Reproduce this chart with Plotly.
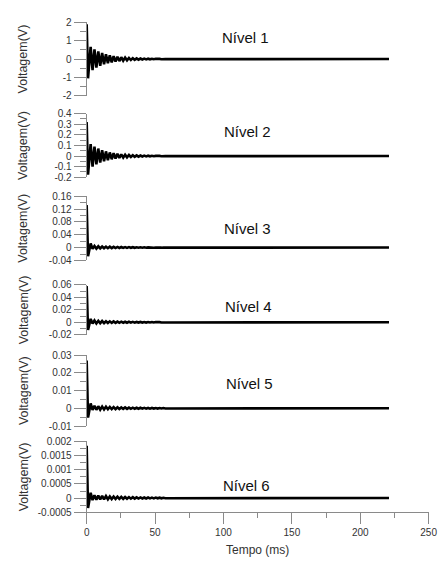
import numpy as np
import plotly.graph_objects as go

# ---------------- data ----------------
t_ms = [0, 1.0, 2.9, 4.3, 5.7, 7.1, 8.5, 9.9, 11.3, 12.7, 14.1, 15.5, 16.9, 18.3,
        19.7, 21.1, 22.5, 23.9, 25.3, 26.7, 28.1, 29.5, 30.9, 32.3, 33.7, 35.1,
        36.5, 37.9, 39.3, 40.7, 42.1, 43.5, 44.9, 46.3, 47.7, 49.1, 50.5, 51.9,
        53.3, 54.7, 56.1, 57.5, 221]

nivel1 = [1.9, -1.05, 0.67, -0.6, 0.53, -0.47, 0.42, -0.37, 0.33, -0.29, 0.26, -0.23,
          0.2, -0.18, 0.16, -0.14, 0.125, -0.11, 0.098, -0.087, 0.077, -0.068,
          0.06, -0.053, 0.047, -0.042, 0.037, -0.033, 0.029, -0.026, 0.023, -0.02,
          0.018, -0.016, 0.014, -0.0125, 0.011, -0.01, 0.009, -0.008, 0.007, -0.006, 0]
nivel2 = [0.32, -0.175, 0.113, -0.1, 0.089, -0.079, 0.071, -0.062, 0.055, -0.049,
          0.044, -0.039, 0.034, -0.03, 0.027, -0.024, 0.021, -0.018, 0.016, -0.0145,
          0.013, -0.0115, 0.01, -0.009, 0.008, -0.007, 0.0062, -0.0055, 0.0049, -0.0044,
          0.0039, -0.0034, 0.003, -0.0027, 0.0024, -0.0021, 0.0018, -0.0017, 0.0015,
          -0.0013, 0.0012, -0.001, 0]
nivel3 = [0.132, -0.027, 0.013, -0.004, 0.005, -0.003, 0.004, -0.0025, 0.0035, -0.002,
          0.003, -0.0018, 0.0027, -0.0016, 0.0024, -0.0014, 0.0021, -0.0012, 0.0018,
          -0.001, 0.0016, -0.0009, 0.0014, -0.0008, 0.0012, -0.0007, 0.001, -0.0006,
          0.0009, -0.0005, 0.0008, -0.00045, 0.0007, -0.0004, 0.0006, -0.00035, 0.0005,
          -0.0003, 0.00045, -0.00025, 0.0004, -0.0002, 0.0001]
nivel4 = [0.058, -0.012, 0.0055, -0.002, 0.003, -0.0017, 0.0025, -0.0014, 0.0021, -0.0012,
          0.0018, -0.001, 0.0016, -0.0009, 0.0014, -0.0008, 0.0012, -0.0007, 0.0011,
          -0.0006, 0.001, -0.00055, 0.0009, -0.0005, 0.0008, -0.00045, 0.0007, -0.0004,
          0.0006, -0.00035, 0.00055, -0.0003, 0.0005, -0.00028, 0.00045, -0.00025,
          0.0004, -0.0002, 0.00035, -0.00018, 0.0003, -0.00015, 0.0001]
nivel5 = [0.027, -0.0052, 0.0028, -0.0009, 0.0014, -0.0008, 0.0012, -0.0007, 0.001,
          -0.0006, 0.0009, -0.0005, 0.0008, -0.00045, 0.0007, -0.0004, 0.0006, -0.00035,
          0.00055, -0.0003, 0.0005, -0.00028, 0.00045, -0.00025, 0.0004, -0.00022,
          0.00036, -0.0002, 0.00032, -0.00018, 0.00028, -0.00016, 0.00025, -0.00014,
          0.00022, -0.00012, 0.0002, -0.0001, 0.00018, -0.00009, 0.00016, -0.00008, 0.00005]
nivel6 = [0.00185, -0.00035, 0.00019, -0.00007, 0.0001, -0.00006, 0.00009, -0.00005,
          0.00008, -0.000045, 0.00007, -0.00004, 0.00006, -0.000035, 0.000055, -0.00003,
          0.00005, -0.000028, 0.000045, -0.000025, 0.00004, -0.000022, 0.000036,
          -0.00002, 0.000032, -0.000018, 0.000028, -0.000016, 0.000025, -0.000014,
          0.000022, -0.000012, 0.00002, -0.00001, 0.000018, -0.000009, 0.000016,
          -0.000008, 0.000014, -0.000007, 0.000012, -0.000006, 0.000004]

series = [nivel1, nivel2, nivel3, nivel4, nivel5, nivel6]
panel_titles = ["Nível 1", "Nível 2", "Nível 3", "Nível 4", "Nível 5", "Nível 6"]

y_ticks = [
    [-2, -1, 0, 1, 2],
    [-0.2, -0.1, 0, 0.1, 0.2, 0.3, 0.4],
    [-0.04, 0, 0.04, 0.08, 0.12, 0.16],
    [-0.02, 0, 0.02, 0.04, 0.06],
    [-0.01, 0, 0.01, 0.02, 0.03],
    [-0.0005, 0, 0.0005, 0.001, 0.0015, 0.002],
]
y_ticktext = [
    ["-2", "-1", "0", "1", "2"],
    ["-0.2", "-0.1", "0", "0.1", "0.2", "0.3", "0.4"],
    ["-0.04", "0", "0.04", "0.08", "0.12", "0.16"],
    ["-0.02", "0", "0.02", "0.04", "0.06"],
    ["-0.01", "0", "0.01", "0.02", "0.03"],
    ["-0.0005", "0", "0.0005", "0.001", "0.0015", "0.002"],
]
x_ticks = [0, 50, 100, 150, 200, 250]
x_ticktext = ["0", "50", "100", "150", "200", "250"]
y_title = "Voltagem(V)"
x_title = "Tempo (ms)"

# ---------------- layout geometry (pixels) ----------------
W, H = 443, 562
panel_px = [(16.7, 91.7), (110, 175), (194.3, 260), (285, 336), (356.7, 429.3), (445, 517.3)]
title_px = [(249, 32), (251, 128), (251, 227), (252, 307), (253, 386), (250, 490)]
x_left, x_right = 86, 437.5

AX = "#8a8a8a"
TXT = "#333333"
FONT = "Liberation Sans, Arial, sans-serif"

fig = go.Figure()
layout = dict(
    width=W, height=H,
    margin=dict(l=0, r=0, t=0, b=0),
    paper_bgcolor="white", plot_bgcolor="white",
    showlegend=False,
    font=dict(family=FONT, color=TXT, size=10),
)

annotations = []
for i, (vals, (top, bot)) in enumerate(zip(series, panel_px)):
    k = i + 1
    yname = "y" if k == 1 else f"y{k}"
    fig.add_trace(go.Scatter(
        x=t_ms, y=vals, mode="lines", xaxis="x", yaxis=yname,
        line=dict(color="black", width=2.6),
        hoverinfo="skip",
    ))
    tv = y_ticks[i]
    step = (tv[1] - tv[0]) / 2
    minor_vals = list(np.arange(tv[0], tv[-1] + step / 2, step))
    layout["yaxis" if k == 1 else f"yaxis{k}"] = dict(
        domain=[1 - bot / H, 1 - top / H],
        anchor="x",
        range=[tv[0], tv[-1]],
        tickmode="array", tickvals=tv, ticktext=y_ticktext[i],
        ticks="outside", ticklen=12, tickcolor=AX, tickwidth=1,
        showline=True, linecolor=AX, linewidth=1,
        showgrid=False, zeroline=False,
        tickfont=dict(family=FONT, size=10, color=TXT),
        minor=dict(ticks="outside", ticklen=6, tickcolor=AX, tickwidth=1,
                   tickmode="array", tickvals=minor_vals, showgrid=False),
        fixedrange=True,
    )
    cy = 1 - (top + bot) / 2 / H
    annotations.append(dict(
        x=21 / W, y=cy, xref="paper", yref="paper", text=y_title,
        textangle=-90, showarrow=False, xanchor="center", yanchor="middle",
        font=dict(family=FONT, size=12.5, color=TXT),
    ))
    tx, ty = title_px[i]
    annotations.append(dict(
        x=tx / W, y=1 - ty / H, xref="paper", yref="paper", text=panel_titles[i],
        showarrow=False, xanchor="center", yanchor="middle",
        font=dict(family=FONT, size=15, color="#111111"),
    ))

layout["xaxis"] = dict(
    domain=[x_left / W, x_right / W],
    anchor="y6",
    range=[0, 250],
    tickmode="array", tickvals=x_ticks, ticktext=x_ticktext,
    ticks="outside", ticklen=11, tickcolor=AX, tickwidth=1,
    showline=True, linecolor=AX, linewidth=1,
    showgrid=False, zeroline=False,
    ticklabeloverflow="allow",
    tickfont=dict(family=FONT, size=10, color=TXT),
    minor=dict(ticks="outside", ticklen=5, tickcolor=AX, tickwidth=1,
               tickmode="array", tickvals=[25, 75, 125, 175, 225], showgrid=False),
    fixedrange=True,
)
annotations.append(dict(
    x=(x_left + x_right) / 2 / W, y=1 - 556 / H, xref="paper", yref="paper",
    text=x_title, showarrow=False, xanchor="center", yanchor="middle",
    font=dict(family=FONT, size=12, color=TXT),
))
layout["annotations"] = annotations

fig.update_layout(**layout)
fig.write_html(
    "out.html",
    config={"displayModeBar": False},
    post_script="document.body.style.margin='0';document.body.style.padding='0';"
                "document.documentElement.style.overflow='hidden';",
)
